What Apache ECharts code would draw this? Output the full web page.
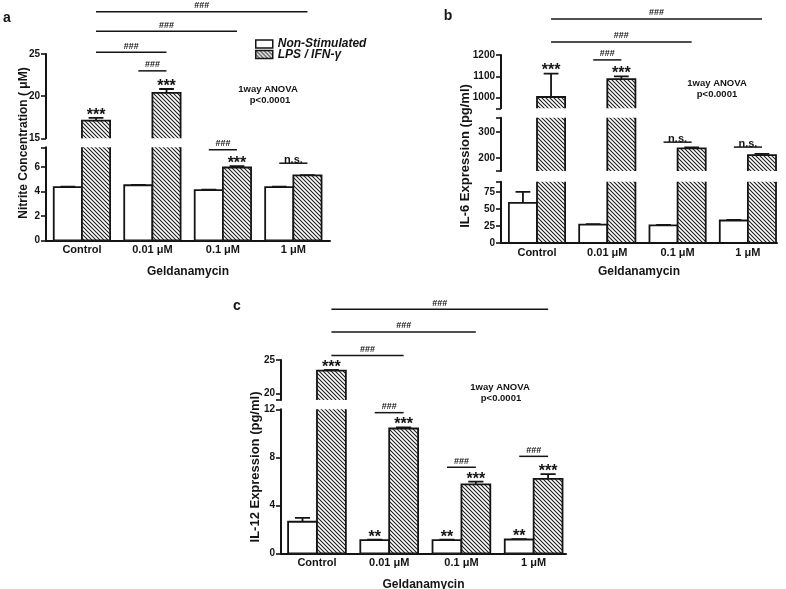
<!DOCTYPE html>
<html lang="en">
<head>
<meta charset="UTF-8">
<title>Geldanamycin</title>
<style>
    * { margin: 0; padding: 0; }
    body { background: #fff; }
    #chart { width: 786px; height: 589px; }
</style>
</head>
<body>
<div id="chart"></div>
<script src="https://cdn.jsdelivr.net/npm/echarts@6/dist/echarts.min.js"></script>
<script>
var categories = ['Control', '0.01 μM', '0.1 μM', '1 μM'];

// a - nitrite (μM)
var nitriteNon = [4.35, 4.5, 4.1, 4.35];
var nitriteNonErr = [0.04, 0.03, 0.04, 0.03];
var nitriteLps = [17.1, 20.4, 5.95, 5.3];
var nitriteLpsErr = [0.32, 0.45, 0.1, 0.03];
var nitriteNonStars = ['', '', '', ''];
var nitriteLpsStars = ['***', '***', '***', ''];
var nitriteTicks = [[0, 2, 4, 6], [15, 20, 25]];
// [segment, fromCat, fromBar, toCat, toBar, level, text]
var nitriteBrackets = [
    [1, 1, 0, 1, 1, 23, '###'],
    [1, 0, 1, 1, 1, 25.2, '###'],
    [1, 0, 1, 2, 1, 27.7, '###'],
    [1, 0, 1, 3, 1, 30, '###'],
    [0, 2, 0, 2, 1, 7.4, '###'],
    [0, 3, 0, 3, 1, 6.3, 'n.s.']
];

// b - IL-6 (pg/ml)
var il6Non = [59, 27, 26, 33];
var il6NonErr = [16, 0.6, 0.6, 0.8];
var il6Lps = [1003, 1087, 237, 211];
var il6LpsErr = [110, 13, 4, 5];
var il6NonStars = ['', '', '', ''];
var il6LpsStars = ['***', '***', '', ''];
var il6Ticks = [[0, 25, 50, 75], [200, 300], [1000, 1100, 1200]];
var il6Brackets = [
    [2, 1, 0, 1, 1, 1177, '###'],
    [2, 0, 1, 2, 1, 1261, '###'],
    [2, 0, 1, 3, 1, 1369, '###'],
    [1, 2, 0, 2, 1, 261, 'n.s.'],
    [1, 3, 0, 3, 1, 242, 'n.s.']
];

// c - IL-12 (pg/ml)
var il12Non = [2.63, 1.1, 1.1, 1.15];
var il12NonErr = [0.33, 0.03, 0.03, 0.03];
var il12Lps = [23.4, 10.4, 5.75, 6.2];
var il12LpsErr = [0.1, 0.1, 0.22, 0.4];
var il12NonStars = ['', '**', '**', '**'];
var il12LpsStars = ['***', '***', '***', '***'];
var il12Ticks = [[0, 4, 8, 12], [20, 25]];
var il12Brackets = [
    [1, 0, 1, 1, 1, 25.66, '###'],
    [1, 0, 1, 2, 1, 29.2, '###'],
    [1, 0, 1, 3, 1, 32.6, '###'],
    [0, 1, 0, 1, 1, 11.72, '###'],
    [0, 2, 0, 2, 1, 7.17, '###'],
    [0, 3, 0, 3, 1, 8.08, '###']
];

var FONT = '"Liberation Sans", Arial, Helvetica, sans-serif';
var INK = '#141414';
var BAR = 0.4;      // bar width in category units
var CAP = 0.105;    // half width of error bar cap

function makeHatch() {
    var c = document.createElement('canvas');
    c.width = 4; c.height = 4;
    var ctx = c.getContext('2d');
    ctx.fillStyle = '#fff';
    ctx.fillRect(0, 0, 4, 4);
    ctx.strokeStyle = '#1e1e1e';
    ctx.lineWidth = 1.1;
    ctx.beginPath();
    ctx.moveTo(-1, -1); ctx.lineTo(5, 5);
    ctx.moveTo(-1, 3); ctx.lineTo(1, 5);
    ctx.moveTo(3, -1); ctx.lineTo(5, 1);
    ctx.stroke();
    return c;
}
var hatch = { image: makeHatch(), repeat: 'repeat' };

var panels = [
    {
        non: nitriteNon, nonErr: nitriteNonErr, lps: nitriteLps, lpsErr: nitriteLpsErr,
        nonStars: nitriteNonStars, lpsStars: nitriteLpsStars, ticks: nitriteTicks, brackets: nitriteBrackets,
        left: 46, right: 330, xMin: -0.51, xMax: 3.52, nameGap: 25,
        segs: [{ top: 147.3, bottom: 240.3, min: 0, max: 7.6 }, { top: 54, bottom: 138.3, min: 15, max: 25 }]
    },
    {
        non: il6Non, nonErr: il6NonErr, lps: il6Lps, lpsErr: il6LpsErr,
        nonStars: il6NonStars, lpsStars: il6LpsStars, ticks: il6Ticks, brackets: il6Brackets,
        left: 501, right: 777, xMin: -0.512, xMax: 3.414, nameGap: 23,
        segs: [{ top: 181.7, bottom: 243, min: 0, max: 90 },
               { top: 117.7, bottom: 171, min: 150, max: 355 },
               { top: 55, bottom: 108.3, min: 950, max: 1200 }]
    },
    {
        non: il12Non, nonErr: il12NonErr, lps: il12Lps, lpsErr: il12LpsErr,
        nonStars: il12NonStars, lpsStars: il12LpsStars, ticks: il12Ticks, brackets: il12Brackets,
        left: 281, right: 566, xMin: -0.498, xMax: 3.448, nameGap: 25,
        segs: [{ top: 409.3, bottom: 553.3, min: 0, max: 12 }, { top: 360, bottom: 400, min: 19, max: 25 }]
    }
];

var grids = [], xAxes = [], yAxes = [], series = [];

function barSeries(g, vals, errs, kind) {
    return {
        type: 'custom', xAxisIndex: g, yAxisIndex: g, clip: true, silent: true,
        data: vals.map(function (v, i) { return [i, v, errs[i]]; }),
        renderItem: function (params, api) {
            var i = api.value(0), v = api.value(1), e = api.value(2);
            var x0 = kind ? i : i - BAR;
            var p0 = api.coord([x0, 0]);
            var p1 = api.coord([x0 + BAR, v]);
            var mid = x0 + BAR / 2;
            var pe = api.coord([mid, v + e]);
            var pl = api.coord([mid - CAP, v + e]);
            var pr = api.coord([mid + CAP, v + e]);
            return {
                type: 'group',
                children: [
                    { type: 'line', shape: { x1: pe[0], y1: p1[1], x2: pe[0], y2: pe[1] },
                      style: { stroke: INK, lineWidth: 1.8 } },
                    { type: 'line', shape: { x1: pl[0], y1: pl[1], x2: pr[0], y2: pr[1] },
                      style: { stroke: INK, lineWidth: 1.8 } },
                    { type: 'rect', shape: { x: p0[0], y: p1[1], width: p1[0] - p0[0], height: p0[1] - p1[1] },
                      style: { fill: kind ? hatch : '#fff', stroke: INK, lineWidth: 1.8 } }
                ]
            };
        }
    };
}

function textEl(x, y, text, font) {
    return {
        type: 'text', x: x, y: y,
        style: { text: text, font: font, fill: INK, align: 'center', verticalAlign: 'middle',
                 textAlign: 'center', textVerticalAlign: 'middle' }
    };
}

function noteSeries(p, g, s) {
    var seg = p.segs[s];
    var items = [];
    [0, 1].forEach(function (kind) {
        var vals = kind ? p.lps : p.non;
        var errs = kind ? p.lpsErr : p.nonErr;
        var stars = kind ? p.lpsStars : p.nonStars;
        vals.forEach(function (v, i) {
            if (stars[i] && v >= seg.min && v <= seg.max) {
                items.push({ star: true, x: i + (kind - 0.5) * BAR, y: v + errs[i], text: stars[i] });
            }
        });
    });
    p.brackets.forEach(function (b) {
        if (b[0] === s) {
            items.push({ x1: b[1] + (b[2] - 0.5) * BAR, x2: b[3] + (b[4] - 0.5) * BAR, y: b[5], text: b[6] });
        }
    });
    return {
        type: 'custom', xAxisIndex: g, yAxisIndex: g, clip: false, silent: true,
        data: items.map(function () { return [0, seg.min]; }),
        renderItem: function (params, api) {
            var it = items[params.dataIndex];
            if (it.star) {
                var pt = api.coord([it.x, it.y]);
                return textEl(pt[0], pt[1] - 2.5, it.text, 'bold 16px ' + FONT);
            }
            var a = api.coord([it.x1, it.y]);
            var b = api.coord([it.x2, it.y]);
            var ns = it.text === 'n.s.';
            return {
                type: 'group',
                children: [
                    { type: 'line', shape: { x1: a[0], y1: a[1], x2: b[0], y2: b[1] },
                      style: { stroke: INK, lineWidth: 1.5 } },
                    textEl((a[0] + b[0]) / 2, a[1] - (ns ? 3.5 : 6),
                           it.text, ns ? 'bold 11px ' + FONT : 'bold 9px ' + FONT)
                ]
            };
        }
    };
}

panels.forEach(function (p) {
    p.segs.forEach(function (seg, s) {
        var g = grids.length;
        grids.push({
            left: p.left, width: p.right - p.left, top: seg.top, height: seg.bottom - seg.top,
            containLabel: false, outerBoundsMode: 'none'
        });
        var bottomSeg = s === 0;
        xAxes.push({
            gridIndex: g, type: 'value', min: p.xMin, max: p.xMax, show: bottomSeg,
            axisLine: { show: true, onZero: false, lineStyle: { color: INK, width: 2 } },
            axisTick: { show: false },
            splitLine: { show: false },
            axisLabel: {
                customValues: categories.map(function (c, i) { return i; }),
                formatter: function (v) { return categories[Math.round(v)]; },
                fontSize: 11, fontWeight: 'bold', fontFamily: FONT, color: INK, margin: 4
            },
            name: bottomSeg ? 'Geldanamycin' : '',
            nameLocation: 'middle', nameGap: p.nameGap,
            nameTextStyle: { fontSize: 12, fontWeight: 'bold', fontFamily: FONT, color: INK }
        });
        var labels = p.ticks[s];
        var tickVals = [seg.min].concat(labels, [seg.max]).filter(function (v, k, arr) {
            return arr.indexOf(v) === k;
        });
        yAxes.push({
            gridIndex: g, type: 'value', min: seg.min, max: seg.max,
            axisLine: { show: true, onZero: false, lineStyle: { color: INK, width: 2 } },
            axisTick: { show: true, length: 5, customValues: tickVals, lineStyle: { color: INK, width: 1.6 } },
            splitLine: { show: false },
            axisLabel: {
                customValues: labels,
                formatter: function (v) { return String(v); },
                fontSize: 10, fontWeight: 'bold', fontFamily: FONT, color: INK, margin: 6
            }
        });
        series.push(barSeries(g, p.non, p.nonErr, 0));
        series.push(barSeries(g, p.lps, p.lpsErr, 1));
        series.push(noteSeries(p, g, s));
    });
});

// legend entries only
series.push({ type: 'bar', name: 'Non-Stimulated', xAxisIndex: 0, yAxisIndex: 0, data: [],
              itemStyle: { color: '#fff', borderColor: INK, borderWidth: 1.5 } });
series.push({ type: 'bar', name: 'LPS / IFN-γ', xAxisIndex: 0, yAxisIndex: 0, data: [],
              itemStyle: { color: hatch, borderColor: INK, borderWidth: 1.5 } });

var labelFont = 'bold 14px ' + FONT;
var nameFont12 = 'bold 12px ' + FONT;
var nameFont13 = 'bold 13px ' + FONT;
var anovaFont = 'bold 9.5px ' + FONT;

function rotated(x, y, text, font) {
    var el = textEl(x, y, text, font);
    el.rotation = Math.PI / 2;
    return el;
}

var chart = echarts.init(document.getElementById('chart'), null, { renderer: 'canvas' });
chart.setOption({
    animation: false,
    backgroundColor: '#fff',
    grid: grids,
    xAxis: xAxes,
    yAxis: yAxes,
    legend: {
        left: 250, top: 33, orient: 'vertical', icon: 'rect',
        itemWidth: 17, itemHeight: 8, itemGap: -1.5,
        textStyle: { fontSize: 12, fontWeight: 'bold', fontStyle: 'italic', fontFamily: FONT, color: INK },
        data: [
            { name: 'Non-Stimulated', itemStyle: { color: '#fff', borderColor: INK, borderWidth: 1.5 } },
            { name: 'LPS / IFN-γ', itemStyle: { color: hatch, borderColor: INK, borderWidth: 1.5 } }
        ]
    },
    graphic: [
        textEl(7, 18, 'a', labelFont),
        textEl(448, 16, 'b', labelFont),
        textEl(237, 306, 'c', labelFont),
        rotated(24, 143, 'Nitrite Concentration ( μM)', nameFont12),
        rotated(465, 156, 'IL-6 Expression (pg/ml)', nameFont13),
        rotated(255, 467, 'IL-12 Expression (pg/ml)', nameFont13),
        textEl(268, 89, '1way ANOVA', anovaFont),
        textEl(270, 100, 'p<0.0001', anovaFont),
        textEl(717, 83, '1way ANOVA', anovaFont),
        textEl(717, 94, 'p<0.0001', anovaFont),
        textEl(500, 387, '1way ANOVA', anovaFont),
        textEl(501, 398, 'p<0.0001', anovaFont)
    ],
    series: series
});
</script>
</body>
</html>
